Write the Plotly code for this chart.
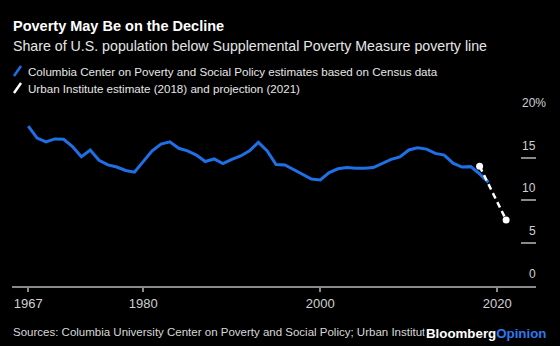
import plotly.graph_objects as go

# Supplemental Poverty Measure rate, % of U.S. population
years = list(range(1967, 2020))
columbia_rate = [
    18.7, 17.3, 16.85, 17.2, 17.15, 16.3, 15.1, 15.9, 14.7, 14.15,
    13.9, 13.5, 13.3, 14.5, 15.8, 16.6, 16.85, 16.1, 15.8, 15.3,
    14.55, 14.85, 14.3, 14.8, 15.2, 15.8, 16.8, 15.8, 14.2, 14.15,
    13.6, 13.1, 12.5, 12.4, 13.25, 13.7, 13.85, 13.75, 13.75, 13.85,
    14.35, 14.8, 15.1, 15.9, 16.15, 16.0, 15.5, 15.3, 14.35, 13.9,
    13.95, 13.1, 12.1,
]
urban_years = [2018, 2021]
urban_rate = [14.0, 7.7]

x_ticks = [1967, 1980, 2000, 2020]
y_ticks = [0, 5, 10, 15, 20]
y_labels = ["0", "5", "10", "15", "20%"]

W, H = 560, 346
BLUE = "#1f6fe6"
GRID = "#8a8a8a"
LABEL = "#d0d0d0"
FONT = "Liberation Sans, Arial, sans-serif"

# plot area in pixels
left, right, top, bottom = 12, 536, 115, 285.7


def px(x):
    return x / W


def py(y):
    return 1 - y / H


fig = go.Figure()
fig.add_trace(go.Scatter(
    x=years, y=columbia_rate, mode="lines",
    line=dict(color=BLUE, width=3), hoverinfo="skip",
))
fig.add_trace(go.Scatter(
    x=urban_years, y=urban_rate, mode="lines+markers",
    line=dict(color="white", width=2.5, dash="6px,4px"),
    marker=dict(color="white", size=7), hoverinfo="skip",
))

annotations = [
    dict(x=px(11), y=py(26), text="<b>Poverty May Be on the Decline</b>",
         font=dict(size=14.5, color="white")),
    dict(x=px(11), y=py(46),
         text="Share of U.S. population below Supplemental Poverty Measure poverty line",
         font=dict(size=14.2, color="#e6e6e6")),
    dict(x=px(26), y=py(71),
         text="Columbia Center on Poverty and Social Policy estimates based on Census data",
         font=dict(size=11.6, color="#e6e6e6")),
    dict(x=px(26), y=py(88),
         text="Urban Institute estimate (2018) and projection (2021)",
         font=dict(size=11.6, color="#e6e6e6")),
    dict(x=px(11), y=py(332),
         text="Sources: Columbia University Center on Poverty and Social Policy; Urban Institute",
         font=dict(size=11.5, color="#d8d8d8")),
]
for a in annotations:
    a.update(xref="paper", yref="paper", xanchor="left", yanchor="middle",
             showarrow=False)

# right-hand value labels sitting above their tick marks
for v, lab in zip(y_ticks, y_labels):
    annotations.append(dict(
        x=px(548 if lab.endswith("%") else 538), y=v, xref="paper", yref="y",
        xanchor="right", yanchor="middle", yshift=12, showarrow=False,
        text=lab, font=dict(size=12, color=LABEL),
    ))

# brand mark, drawn over the end of the sources line
annotations.append(dict(
    x=px(548), y=py(333), xref="paper", yref="paper", xanchor="right",
    yanchor="middle", showarrow=False, bgcolor="black", borderpad=1,
    text="<b>Bloomberg<span style='color:#2b7af0'>Opinion</span></b>",
    font=dict(size=13.3, color="white"),
))

shapes = [
    # legend swatches
    dict(type="line", xref="paper", yref="paper",
         x0=px(14), y0=py(76), x1=px(21), y1=py(66),
         line=dict(color=BLUE, width=2.5)),
    dict(type="line", xref="paper", yref="paper",
         x0=px(14), y0=py(93), x1=px(21), y1=py(83),
         line=dict(color="white", width=2.5)),
]

x0_year = 1967 - (28.25 - left) / 8.85
fig.update_layout(
    width=W, height=H,
    margin=dict(l=0, r=0, t=0, b=0),
    paper_bgcolor="black", plot_bgcolor="black",
    font=dict(family=FONT, color=LABEL),
    showlegend=False,
    annotations=annotations,
    shapes=shapes,
    xaxis=dict(
        domain=[px(left), px(right)],
        range=[x0_year, x0_year + (right - left) / 8.85],
        tickvals=x_ticks, ticktext=[str(t) for t in x_ticks],
        ticks="outside", ticklen=5, tickwidth=1.5, tickcolor=GRID,
        showline=True, linecolor=GRID, linewidth=1.5,
        showgrid=False, zeroline=False,
        tickfont=dict(size=13, color=LABEL),
    ),
    yaxis=dict(
        domain=[py(bottom), py(top)],
        range=[0, 20], side="right",
        tickvals=y_ticks, showticklabels=False,
        ticks="inside", ticklen=15, tickwidth=1.5, tickcolor=GRID,
        showline=False, showgrid=False, zeroline=False,
    ),
)

fig.write_html("out.html")
